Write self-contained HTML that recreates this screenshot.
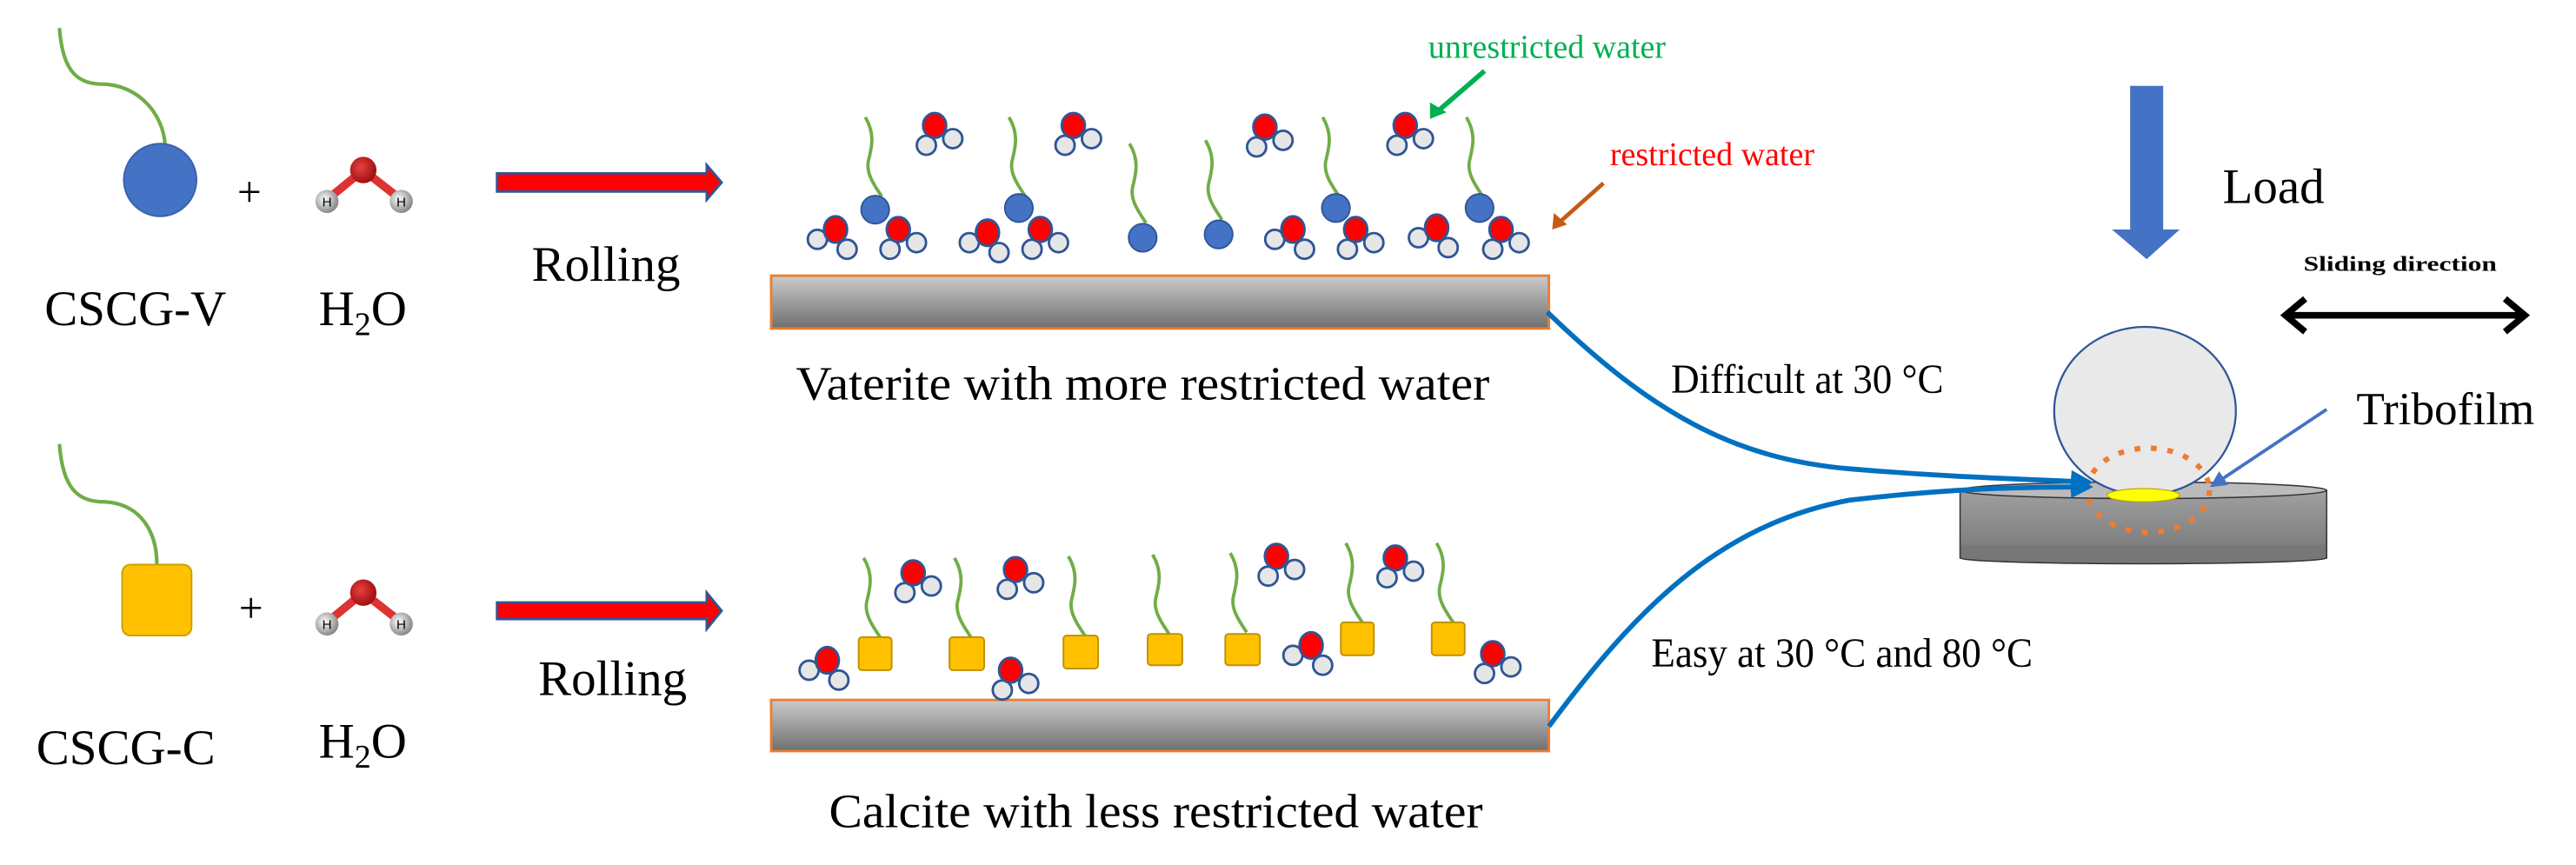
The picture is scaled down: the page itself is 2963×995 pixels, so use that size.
<!DOCTYPE html>
<html><head><meta charset="utf-8"><style>html,body{margin:0;padding:0;background:#fff}svg{display:block}</style></head>
<body>
<svg width="2963" height="995" viewBox="0 0 1560 524" preserveAspectRatio="none" xmlns="http://www.w3.org/2000/svg" font-family="'Liberation Serif', serif">
<defs>
<linearGradient id="sub" x1="0" y1="0" x2="0" y2="1"><stop offset="0" stop-color="#cbcbcb"/><stop offset="1" stop-color="#6f6f6f"/></linearGradient>
<linearGradient id="disc" x1="0" y1="0" x2="0" y2="1"><stop offset="0" stop-color="#a0a0a0"/><stop offset="1" stop-color="#777"/></linearGradient>
<radialGradient id="hg" cx="0.4" cy="0.4" r="0.6"><stop offset="0" stop-color="#fff"/><stop offset="1" stop-color="#888"/></radialGradient>
<radialGradient id="og" cx="0.4" cy="0.4" r="0.6"><stop offset="0" stop-color="#e84040"/><stop offset="1" stop-color="#a01010"/></radialGradient>
<marker id="ab" viewBox="0 0 10 10" refX="8" refY="5" markerWidth="4.5" markerHeight="4.5" orient="auto"><path d="M0,0 L10,5 L0,10 z" fill="#0070C0"/></marker>
<marker id="at" viewBox="0 0 10 10" refX="8" refY="5" markerWidth="5" markerHeight="5" orient="auto"><path d="M0,0 L10,5 L0,10 z" fill="#4472C4"/></marker>
<g id="w"><circle cx="-5" cy="12" r="5.8" fill="#e6e6e6" stroke="#2F5597" stroke-width="1.5"/><circle cx="11" cy="8" r="5.8" fill="#e6e6e6" stroke="#2F5597" stroke-width="1.5"/><ellipse cx="0" cy="0" rx="7" ry="7.5" fill="#ff0000" stroke="#2F5597" stroke-width="1.5"/></g>
<g id="w2"><circle cx="-11" cy="6" r="5.8" fill="#e6e6e6" stroke="#2F5597" stroke-width="1.5"/><circle cx="7" cy="12" r="5.8" fill="#e6e6e6" stroke="#2F5597" stroke-width="1.5"/><ellipse cx="0" cy="0" rx="7" ry="8" fill="#ff0000" stroke="#2F5597" stroke-width="1.5"/></g>
<g id="h2o"><line x1="220" y1="0" x2="198" y2="18" stroke="#d33" stroke-width="5"/><line x1="220" y1="0" x2="243" y2="18" stroke="#d33" stroke-width="5"/><circle cx="198" cy="19" r="7" fill="url(#hg)"/><circle cx="243" cy="19" r="7" fill="url(#hg)"/><circle cx="220" cy="0" r="8" fill="url(#og)"/><text x="198" y="22" font-size="8" text-anchor="middle" font-family="'Liberation Sans',sans-serif">H</text><text x="243" y="22" font-size="8" text-anchor="middle" font-family="'Liberation Sans',sans-serif">H</text></g>
<path id="stem" d="M0,0 C6,10 4,18 2,26 C0,34 6,42 10,48" fill="none" stroke="#70AD47" stroke-width="2"/>
</defs>

<path d="M36,17 C38,45 48,51 63,51 C85,52 99,70 100,88" fill="none" stroke="#70AD47" stroke-width="2.2"/>
<ellipse cx="97" cy="109" rx="22" ry="22" fill="#4472C4" stroke="#3A62AA" stroke-width="1"/>
<text x="151" y="125" font-size="26" text-anchor="middle">+</text>
<use href="#h2o" y="103"/>
<text x="27" y="197" font-size="30">CSCG-V</text>
<text x="193" y="197" font-size="30">H<tspan font-size="20" dy="6">2</tspan><tspan dy="-6">O</tspan></text>
<polygon points="301,105 428,105 428,100 437,110.5 428,121 428,116 301,116" fill="#ff0000" stroke="#2F5597" stroke-width="1.5"/>
<text x="322" y="170" font-size="30">Rolling</text>

<rect x="467" y="167" width="471" height="32" fill="url(#sub)" stroke="#ED7D31" stroke-width="1.5"/>
<text x="482" y="242" font-size="29" textLength="420" lengthAdjust="spacingAndGlyphs">Vaterite with more restricted water</text>
<use href="#stem" x="524" y="71"/>
<use href="#stem" x="611" y="71"/>
<use href="#stem" x="684" y="87"/>
<use href="#stem" x="730" y="85"/>
<use href="#stem" x="801" y="71"/>
<use href="#stem" x="888" y="71"/>
<circle cx="530" cy="127" r="8.5" fill="#4472C4" stroke="#2F5597"/>
<circle cx="617" cy="126" r="8.5" fill="#4472C4" stroke="#2F5597"/>
<circle cx="692" cy="144" r="8.5" fill="#4472C4" stroke="#2F5597"/>
<circle cx="738" cy="142" r="8.5" fill="#4472C4" stroke="#2F5597"/>
<circle cx="809" cy="126" r="8.5" fill="#4472C4" stroke="#2F5597"/>
<circle cx="896" cy="126" r="8.5" fill="#4472C4" stroke="#2F5597"/>
<use href="#w" x="566" y="76"/><use href="#w" x="650" y="76"/><use href="#w" x="766" y="77"/><use href="#w" x="851" y="76"/>
<use href="#w2" x="506" y="139"/><use href="#w" x="544" y="139"/><use href="#w2" x="598" y="141"/><use href="#w" x="630" y="139"/>
<use href="#w2" x="783" y="139"/><use href="#w" x="821" y="139"/><use href="#w2" x="870" y="138"/><use href="#w" x="909" y="139"/>
<text x="865" y="35" font-size="20" fill="#00B050">unrestricted water</text>
<line x1="899" y1="43" x2="870" y2="68" stroke="#00B050" stroke-width="3"/><polygon points="866,72 866,62 876,68" fill="#00B050"/>
<text x="975" y="100" font-size="20" fill="#ff0000">restricted water</text>
<line x1="971" y1="111" x2="944" y2="135" stroke="#C55A11" stroke-width="2.5"/><polygon points="940,139 941,129 949,136" fill="#C55A11"/>

<path d="M36,269 C38,297 48,304 63,304 C85,305 95,322 95,342" fill="none" stroke="#70AD47" stroke-width="2.2"/>
<rect x="74" y="342" width="42" height="43" rx="5" fill="#FFC000" stroke="#C9A000" stroke-width="1"/>
<text x="152" y="377" font-size="26" text-anchor="middle">+</text>
<use href="#h2o" y="359"/>
<text x="22" y="463" font-size="30">CSCG-C</text>
<text x="193" y="459" font-size="30">H<tspan font-size="20" dy="6">2</tspan><tspan dy="-6">O</tspan></text>
<polygon points="301,365 428,365 428,359 437,370 428,381 428,375 301,375" fill="#ff0000" stroke="#2F5597" stroke-width="1.5"/>
<text x="326" y="421" font-size="30">Rolling</text>

<rect x="467" y="424" width="471" height="31" fill="url(#sub)" stroke="#ED7D31" stroke-width="1.5"/>
<text x="502" y="501" font-size="29" textLength="396" lengthAdjust="spacingAndGlyphs">Calcite with less restricted water</text>
<use href="#stem" x="523" y="338"/>
<use href="#stem" x="578" y="338"/>
<use href="#stem" x="647" y="337"/>
<use href="#stem" x="698" y="336"/>
<use href="#stem" x="745" y="335"/>
<use href="#stem" x="815" y="329"/>
<use href="#stem" x="870" y="329"/>
<g fill="#FFC000" stroke="#BF9000" stroke-width="1">
<rect x="520" y="386" width="20" height="20" rx="2"/>
<rect x="575" y="386" width="21" height="20" rx="2"/>
<rect x="644" y="385" width="21" height="20" rx="2"/>
<rect x="695" y="384" width="21" height="19" rx="2"/>
<rect x="742" y="384" width="21" height="19" rx="2"/>
<rect x="812" y="377" width="20" height="20" rx="2"/>
<rect x="867" y="377" width="20" height="20" rx="2"/>
</g>
<use href="#w2" x="501" y="400"/><use href="#w" x="553" y="347"/><use href="#w" x="615" y="345"/><use href="#w" x="612" y="406"/>
<use href="#w" x="773" y="337"/><use href="#w2" x="794" y="391"/><use href="#w" x="845" y="338"/><use href="#w" x="904" y="396"/>

<text x="1012" y="238" font-size="25" textLength="165" lengthAdjust="spacingAndGlyphs">Difficult at 30 °C</text>
<text x="1000" y="404" font-size="25" textLength="231" lengthAdjust="spacingAndGlyphs">Easy at 30 °C and 80 °C</text>

<polygon points="1290,52 1310,52 1310,139 1320,139 1300,157 1279,139 1290,139" fill="#4472C4"/>
<text x="1346" y="123" font-size="30">Load</text>
<text x="1395" y="164" font-size="13" font-weight="bold" textLength="117" lengthAdjust="spacingAndGlyphs">Sliding direction</text>
<line x1="1384" y1="191" x2="1528" y2="191" stroke="#000" stroke-width="4"/>
<polyline points="1396,181 1384,191 1396,201" fill="none" stroke="#000" stroke-width="4"/>
<polyline points="1517,181 1529,191 1517,201" fill="none" stroke="#000" stroke-width="4"/>

<rect x="1187" y="297" width="222" height="41" fill="url(#disc)" stroke="#333" stroke-width="0.8"/>
<ellipse cx="1298" cy="338" rx="111" ry="3.5" fill="#777" stroke="#333" stroke-width="0.8"/>
<rect x="1187.6" y="330" width="220.8" height="8" fill="#777"/>
<ellipse cx="1298" cy="297" rx="111" ry="5" fill="#bbbbbb" stroke="#333" stroke-width="0.8"/>
<ellipse cx="1299" cy="249" rx="55" ry="51" fill="#e9e9e9" stroke="#2F5597" stroke-width="1.2"/>
<ellipse cx="1298" cy="300" rx="22" ry="4" fill="#ffff00" stroke="#b8a000" stroke-width="0.6"/>
<ellipse cx="1301" cy="297" rx="37" ry="25.5" fill="none" stroke="#ED7D31" stroke-width="3.2" stroke-dasharray="3.5,6.5"/>

<path d="M937,189 C1000,250 1050,278 1120,284 C1180,289 1220,290 1265,292" fill="none" stroke="#0070C0" stroke-width="3" marker-end="url(#ab)"/>
<path d="M938,440 C990,370 1040,318 1120,303 C1180,296 1220,295 1265,295" fill="none" stroke="#0070C0" stroke-width="3" marker-end="url(#ab)"/>
<line x1="1409" y1="248" x2="1340" y2="294" stroke="#4472C4" stroke-width="2" marker-end="url(#at)"/>
<text x="1427" y="257" font-size="28">Tribofilm</text>
</svg>
</body></html>
